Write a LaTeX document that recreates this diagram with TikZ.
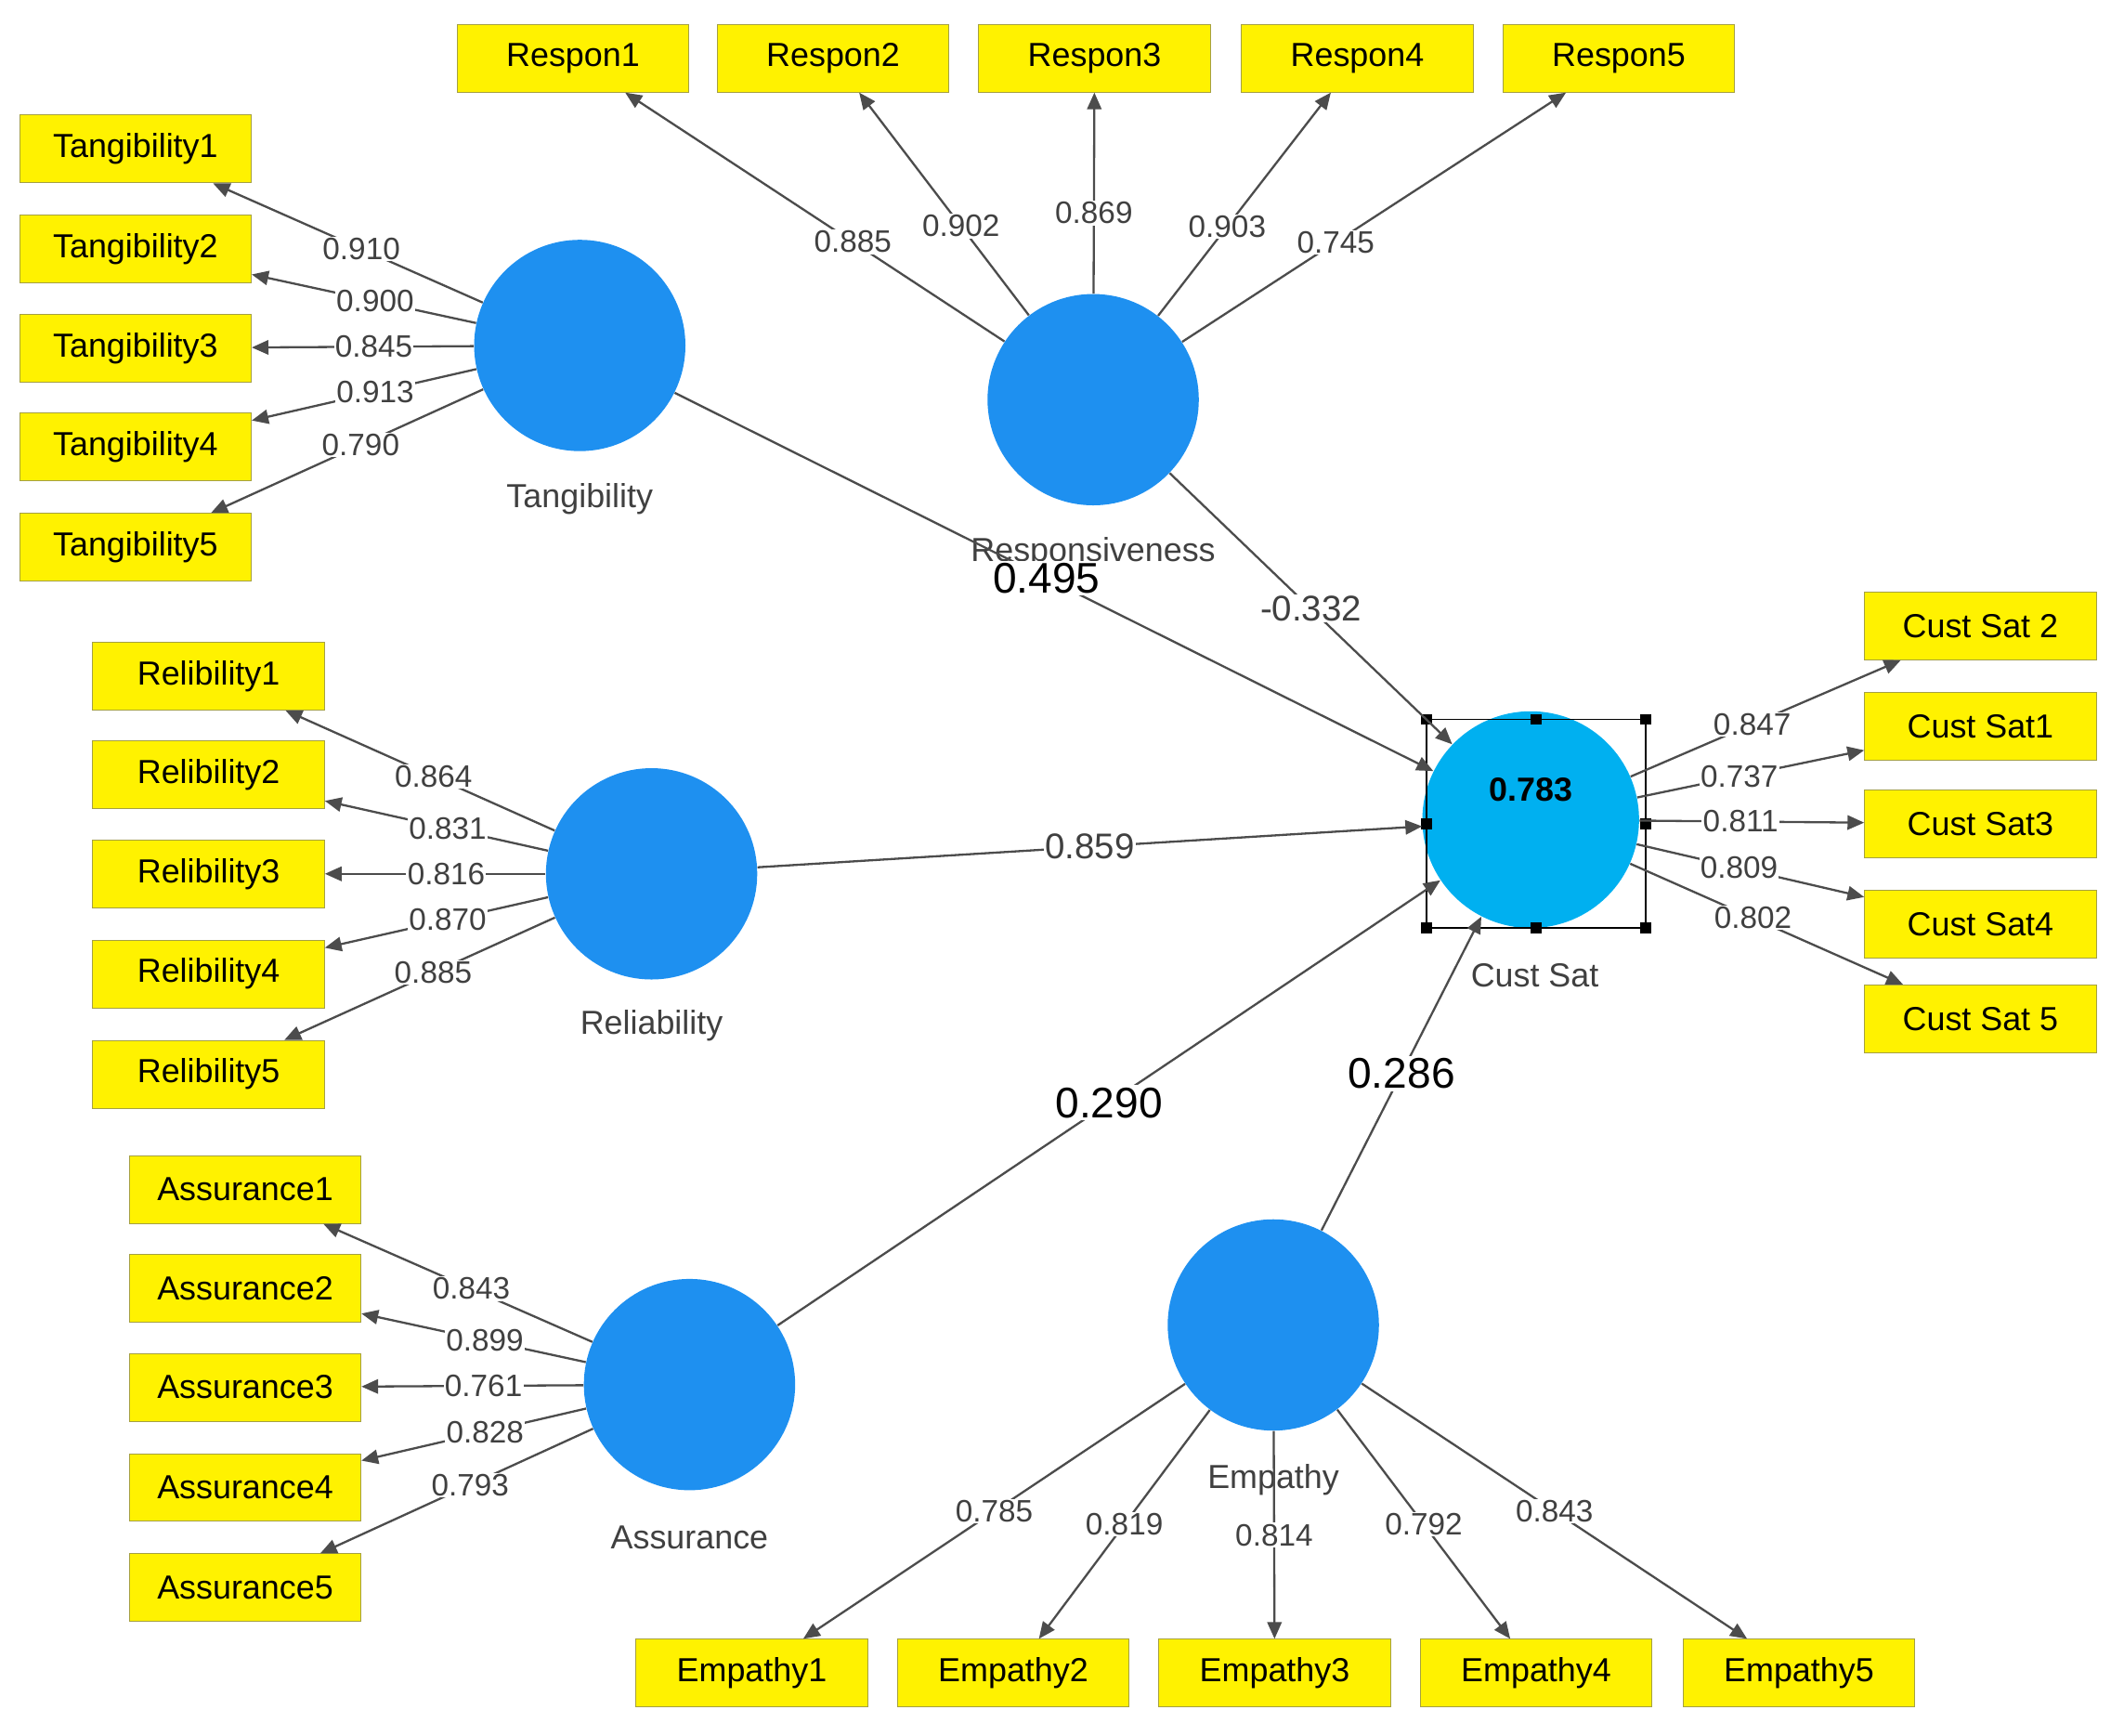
\documentclass[tikz,border=0pt]{standalone}
\usepackage{fontspec}
\setmainfont{Liberation Sans}
\usetikzlibrary{arrows.meta}
\begin{document}
\begin{tikzpicture}[x=0.02cm,y=-0.02cm,
 box/.style={draw=yellow!60!black,fill=yellow,minimum width=3.42cm,minimum height=1cm,inner sep=1pt,font=\fontsize{14}{16}\selectfont},
 lv/.style={circle,fill=blue!45!cyan!90!black,minimum size=3.12cm,inner sep=0pt},
 lvlab/.style={font=\fontsize{14}{16}\selectfont,text=black!75},
 ld/.style={draw=black!70,line width=0.9pt,-{Triangle[length=7pt,width=6pt]}},
 ll/.style={fill=white,inner sep=0.5pt,font=\fontsize{13}{15}\selectfont,text=black!75},
 pl/.style={fill=white,inner sep=1pt,font=\fontsize{18}{20}\selectfont}]
\useasboundingbox (0,0) rectangle (1568,1281);
\colorlet{lvc}{blue!45!cyan!90!black}
% latent variables
\node[lv,fill={rgb,255:red,30;green,144;blue,240}] (T) at (428,255) {};
\node[lv,fill={rgb,255:red,30;green,144;blue,240}] (R) at (807,295) {};
\node[lv,fill={rgb,255:red,30;green,144;blue,240}] (L) at (481,645) {};
\node[lv,fill={rgb,255:red,30;green,144;blue,240}] (A) at (509,1022) {};
\node[lv,fill={rgb,255:red,30;green,144;blue,240}] (E) at (940,978) {};
\node[lv,fill={rgb,255:red,0;green,176;blue,240},minimum size=3.2cm] (C) at (1130,605) {};
\node[font=\fontsize{14}{16}\selectfont\bfseries] (Cv) at (1130,583) {0.783};
% selection box
\draw[black,line width=0.6pt] (1053,531) rectangle (1215,685);
\foreach \p in {(1053,531),(1134,531),(1215,531),(1053,608),(1215,608),(1053,685),(1134,685),(1215,685)}
  \fill \p ++(-4,-4) rectangle ++(8,8);
% labels
\node[lvlab] (Tl) at (428,368) {Tangibility};
\node[lvlab] (Rl) at (807,408) {Responsiveness};
\node[lvlab] (Ll) at (481,757) {Reliability};
\node[lvlab] (Al) at (509,1135) {Assurance};
\node[lvlab] (El) at (940,1092) {Empathy};
\node[lvlab] (Cl) at (1133,720) {Cust Sat};
% indicator boxes
\foreach \i/\y in {1/110,2/184,3/257,4/330,5/404}
  \node[box] (T\i) at (100,\y) {Tangibility\i};
\foreach \i/\x in {1/423,2/615,3/808,4/1002,5/1195}
  \node[box] (R\i) at (\x,43) {Respon\i};
\foreach \i/\y in {1/499,2/572,3/645,4/719,5/793}
  \node[box] (L\i) at (154,\y) {Relibility\i};
\foreach \i/\y in {1/878,2/951,3/1024,4/1098,5/1172}
  \node[box] (A\i) at (181,\y) {Assurance\i};
\foreach \i/\x in {1/555,2/748,3/941,4/1134,5/1328}
  \node[box] (E\i) at (\x,1235) {Empathy\i};
\node[box] (C1) at (1462,462) {Cust Sat 2};
\node[box] (C2) at (1462,536) {Cust Sat1};
\node[box] (C3) at (1462,608) {Cust Sat3};
\node[box] (C4) at (1462,682) {Cust Sat4};
\node[box] (C5) at (1462,752) {Cust Sat 5};
% loadings
\foreach \i/\v in {1/0.910,2/0.900,3/0.845,4/0.913,5/0.790}
  \draw[ld] (T) -- node[ll,pos=0.45]{\v} (T\i);
\foreach \i/\v in {1/0.885,2/0.902,3/0.869,4/0.903,5/0.745}
  \draw[ld] (R) -- node[ll,pos=0.4]{\v} (R\i);
\foreach \i/\v in {1/0.864,2/0.831,3/0.816,4/0.870,5/0.885}
  \draw[ld] (L) -- node[ll,pos=0.45]{\v} (L\i);
\foreach \i/\v in {1/0.843,2/0.899,3/0.761,4/0.828,5/0.793}
  \draw[ld] (A) -- node[ll,pos=0.45]{\v} (A\i);
\foreach \i/\v in {1/0.785,2/0.819,3/0.814,4/0.792,5/0.843}
  \draw[ld] (E) -- node[ll,pos=0.5]{\v} (E\i);
\foreach \i/\v in {1/0.847,2/0.737,3/0.811,4/0.809,5/0.802}
  \draw[ld] (C) -- node[ll,pos=0.45]{\v} (C\i);
% paths
\draw[ld] (T) -- node[pl,pos=0.49]{0.495} (C);
\draw[ld] (R) -- node[ll,pos=0.5,font=\fontsize{15}{17}\selectfont]{-0.332} (C);
\draw[ld] (L) -- node[ll,pos=0.5,font=\fontsize{15}{17}\selectfont]{0.859} (C);
\draw[ld] (A) -- node[pl,pos=0.5]{0.290} (C);
\draw[ld] (E) -- node[pl,pos=0.5]{0.286} (C);
\end{tikzpicture}
\end{document}
